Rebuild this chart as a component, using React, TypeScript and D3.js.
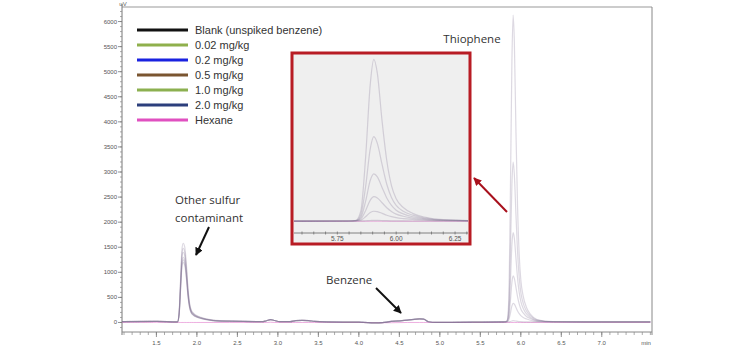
import React from "react";
import * as d3 from "d3";

// ---------- DATA ----------
const times = [
  1.07, 1.5, 1.7, 1.76, 1.78, 1.8, 1.815, 1.83, 1.85, 1.87, 1.89, 1.91, 1.93, 1.96, 2.0, 2.05, 2.1, 2.2, 2.4,
  2.8, 2.86, 2.91, 2.96, 3.02, 3.15, 3.22, 3.3, 3.38, 3.45, 3.6, 4.0, 4.25, 4.4, 4.6, 4.75, 4.8, 4.86, 4.95, 5.4,
  5.8, 5.83, 5.85, 5.87, 5.89, 5.905, 5.92, 5.94, 5.96, 5.98, 6.0, 6.03, 6.07, 6.12, 6.2, 6.4, 7.0, 7.6,
];

const blank = [
  15, 20, 12, 10, 150, 700, 1100, 1200, 1140, 880, 520, 290, 190, 140, 105, 80, 60, 36, 25,
  15, 35, 55, 40, 15, 15, 35, 40, 38, 20, 10, 5, -8, 20, 45, 70, 65, 15, 0, 5,
  10, 10, 12, 20, 30, 35, 33, 28, 22, 18, 15, 12, 11, 10, 10, 15, 10, 10,
];
const s002 = [
  15, 20, 12, 10, 155, 730, 1150, 1250, 1190, 915, 540, 300, 197, 145, 108, 82, 62, 37, 25,
  15, 35, 55, 40, 15, 15, 35, 40, 38, 20, 10, 5, -8, 20, 45, 70, 65, 15, 0, 5,
  10, 15, 45, 170, 330, 380, 365, 300, 230, 175, 135, 100, 70, 45, 20, 12, 10, 10,
];
const s02 = [
  15, 20, 12, 10, 160, 760, 1190, 1300, 1235, 950, 560, 312, 205, 150, 112, 85, 64, 38, 25,
  15, 35, 55, 40, 15, 15, 35, 40, 38, 20, 10, 5, -8, 20, 45, 70, 65, 15, 0, 5,
  10, 20, 90, 400, 800, 930, 880, 700, 510, 370, 270, 190, 120, 75, 30, 12, 10, 10,
];
const s05 = [
  15, 20, 12, 10, 172, 815, 1285, 1400, 1330, 1025, 605, 335, 220, 162, 120, 92, 69, 41, 25,
  15, 35, 55, 40, 15, 15, 35, 40, 38, 20, 10, 5, -8, 20, 45, 70, 65, 15, 0, 5,
  10, 25, 150, 750, 1550, 1790, 1680, 1280, 880, 600, 420, 280, 170, 100, 40, 14, 10, 10,
];
const s10 = [
  15, 20, 12, 10, 182, 860, 1355, 1480, 1405, 1085, 640, 355, 233, 171, 127, 97, 72, 43, 25,
  15, 35, 55, 40, 15, 15, 35, 40, 38, 20, 10, 5, -8, 20, 45, 70, 65, 15, 0, 5,
  10, 30, 250, 1300, 2750, 3200, 2950, 2150, 1400, 900, 600, 380, 230, 130, 50, 15, 10, 10,
];
const s20 = [
  15, 20, 12, 10, 195, 920, 1450, 1580, 1500, 1160, 680, 380, 248, 182, 135, 103, 77, 46, 25,
  15, 35, 55, 40, 15, 15, 35, 40, 38, 20, 10, 5, -8, 20, 45, 70, 65, 15, 0, 5,
  10, 40, 400, 2400, 5200, 6130, 5600, 3800, 2300, 1350, 850, 520, 300, 160, 60, 15, 10, 10,
];
const hexane = [
  0, 2, 0, 0, 0, 0, 0, 0, 0, 0, 0, 0, 0, 0, 0, 0, 0, 0, 0,
  0, 0, 5, 0, 0, 0, 0, 0, 0, 0, 0, 0, -5, -5, 0, 0, 0, 0, 0, 0,
  0, 0, 0, 0, 0, 0, 0, 0, 0, 0, 0, 0, 0, 0, 0, 0, 0, 0,
];

const seriesNames = ["Blank (unspiked benzene)", "0.02 mg/kg", "0.2 mg/kg", "0.5 mg/kg", "1.0 mg/kg", "2.0 mg/kg", "Hexane"];
const legendColors = ["#111111", "#8fb04c", "#1a22e0", "#7a5530", "#8cb050", "#2c3f7c", "#e050c0"];
const sampleSeries = [blank, s002, s02, s05, s10, s20];

const yTicks = [0, 500, 1000, 1500, 2000, 2500, 3000, 3500, 4000, 4500, 5000, 5500, 6000];
const xTicks = [1.5, 2.0, 2.5, 3.0, 3.5, 4.0, 4.5, 5.0, 5.5, 6.0, 6.5, 7.0];
const insetTicks = [5.75, 6.0, 6.25];

// ---------- LAYOUT ----------
const W = 756, H = 353;
const L = 122, R = 652, T = 7, B = 332;
const x = d3.scaleLinear().domain([1.075, 7.62]).range([L, R]);
const y = d3.scaleLinear().domain([-190, 6290]).range([B, T]);

const IX0 = 292, IX1 = 470, IY0 = 53, IY1 = 244;
const xi = d3.scaleLinear().domain([5.566, 6.305]).range([294, 468]);
const yi = d3.scaleLinear().domain([-444, 6255]).range([233, 56]);

const traceColor = "#7a6c8e";
const hexColor = "#e070c8";

function linePath(xs: d3.ScaleLinear<number, number>, ys: d3.ScaleLinear<number, number>, vals: number[]) {
  const gen = d3
    .line<number>()
    .x((_, i) => xs(times[i]))
    .y((v) => ys(v))
    .curve(d3.curveMonotoneX);
  return gen(vals) || "";
}

export default function App() {
  const yMinor = d3.range(-100, 6201, 100);
  const xMinor = d3.range(1.1, 7.61, 0.1);
  const iMinor = d3.range(5.6, 6.31, 0.05);
  const font = "Arial, 'Liberation Sans', sans-serif";
  const annFont = "'Open Sans', 'Noto Sans', sans-serif";
  return (
    <svg width={W} height={H} style={{ position: "absolute", left: 0, top: 0, background: "#fff" }} fontFamily={font}>
      <defs>
        <clipPath id="mainClip">
          <rect x={L} y={T} width={R - L} height={B - T} />
        </clipPath>
        <clipPath id="insetClip">
          <rect x={294} y={55} width={174} height={178} />
        </clipPath>
        <marker id="arrB" viewBox="0 0 10 10" refX="9" refY="5" markerWidth="4" markerHeight="4" orient="auto">
          <path d="M0,0 L10,5 L0,10 z" fill="#111" />
        </marker>
        <marker id="arrR" viewBox="0 0 10 10" refX="9" refY="5" markerWidth="4" markerHeight="4" orient="auto">
          <path d="M0,0 L10,5 L0,10 z" fill="#a8101c" />
        </marker>
      </defs>

      {/* frame */}
      <line x1={L} x2={R} y1={T} y2={T} stroke="#999" strokeWidth={1} />
      <line x1={R} x2={R} y1={T} y2={B + 3} stroke="#888" strokeWidth={1} />
      <line x1={L} x2={L} y1={T - 3} y2={B + 3} stroke="#777" strokeWidth={1} />
      <line x1={L} x2={R} y1={B} y2={B} stroke="#888" strokeWidth={1} />
      <text x={L + 1} y={6} fontSize={6} fill="#666" textAnchor="middle">uV</text>

      {/* y ticks */}
      {yMinor.map((v) => (
        <line key={"ym" + v} x1={L - 2} x2={L} y1={y(v)} y2={y(v)} stroke="#888" strokeWidth={0.7} />
      ))}
      {yTicks.map((v) => (
        <g key={"yt" + v}>
          <line x1={L - 4} x2={L} y1={y(v)} y2={y(v)} stroke="#777" strokeWidth={0.8} />
          <text x={L - 5} y={y(v) + 2} fontSize={6} fill="#555" textAnchor="end">{v}</text>
        </g>
      ))}

      {/* x ticks */}
      {xMinor.map((v, i) => (
        <line key={"xm" + i} x1={x(v)} x2={x(v)} y1={B} y2={B + 3} stroke="#888" strokeWidth={0.7} />
      ))}
      {xTicks.map((v) => (
        <g key={"xt" + v}>
          <line x1={x(v)} x2={x(v)} y1={B} y2={B + 5} stroke="#777" strokeWidth={0.8} />
          <text x={x(v)} y={345} fontSize={6} fill="#555" textAnchor="middle">{v.toFixed(1)}</text>
        </g>
      ))}
      <text x={646} y={345} fontSize={6} fill="#555" textAnchor="middle">min</text>

      {/* traces */}
      <g clipPath="url(#mainClip)" fill="none">
        <path d={linePath(x, y, hexane)} stroke={hexColor} strokeOpacity={0.55} strokeWidth={1} />
        {sampleSeries.map((s, i) => (
          <path key={i} d={linePath(x, y, s)} stroke={traceColor} strokeOpacity={0.26} strokeWidth={1.2} />
        ))}
      </g>

      {/* legend */}
      {seriesNames.map((n, i) => (
        <g key={n}>
          <line x1={137} x2={188} y1={30 + i * 15} y2={30 + i * 15} stroke={legendColors[i]} strokeWidth={3} />
          <text x={195} y={30 + i * 15 + 4} fontSize={11} fill="#333">{n}</text>
        </g>
      ))}

      {/* inset */}
      <rect x={IX0} y={IY0} width={IX1 - IX0} height={IY1 - IY0} fill="#efefef" stroke="#b81c24" strokeWidth={3} />
      <g clipPath="url(#insetClip)" fill="none">
        <path d={linePath(xi, yi, hexane)} stroke={hexColor} strokeOpacity={0.5} strokeWidth={1} />
        {sampleSeries.map((s, i) => (
          <path key={i} d={linePath(xi, yi, s)} stroke={traceColor} strokeOpacity={0.26} strokeWidth={1.2} />
        ))}
      </g>
      <line x1={294} x2={468} y1={233} y2={233} stroke="#666" strokeWidth={0.8} />
      {iMinor.map((v, i) => (
        <line key={"im" + i} x1={xi(v)} x2={xi(v)} y1={231.5} y2={234.5} stroke="#666" strokeWidth={0.7} />
      ))}
      {insetTicks.map((v) => (
        <text key={"it" + v} x={xi(v)} y={241} fontSize={6.5} fill="#555" textAnchor="middle">{v.toFixed(2)}</text>
      ))}

      {/* annotations */}
      <g fontFamily={annFont} fontSize={11.5} fill="#333">
        <text x={472} y={43} textAnchor="middle">Thiophene</text>
        <text x={175} y={204}>Other sulfur</text>
        <text x={175} y={222}>contaminant</text>
        <text x={326} y={284}>Benzene</text>
      </g>
      <line x1={209} y1={227} x2={196} y2={255} stroke="#111" strokeWidth={2} markerEnd="url(#arrB)" />
      <line x1={376} y1={288} x2={401} y2={313} stroke="#111" strokeWidth={2} markerEnd="url(#arrB)" />
      <line x1={507} y1={212} x2={474} y2={178} stroke="#a8101c" strokeWidth={2} markerEnd="url(#arrR)" />
    </svg>
  );
}
